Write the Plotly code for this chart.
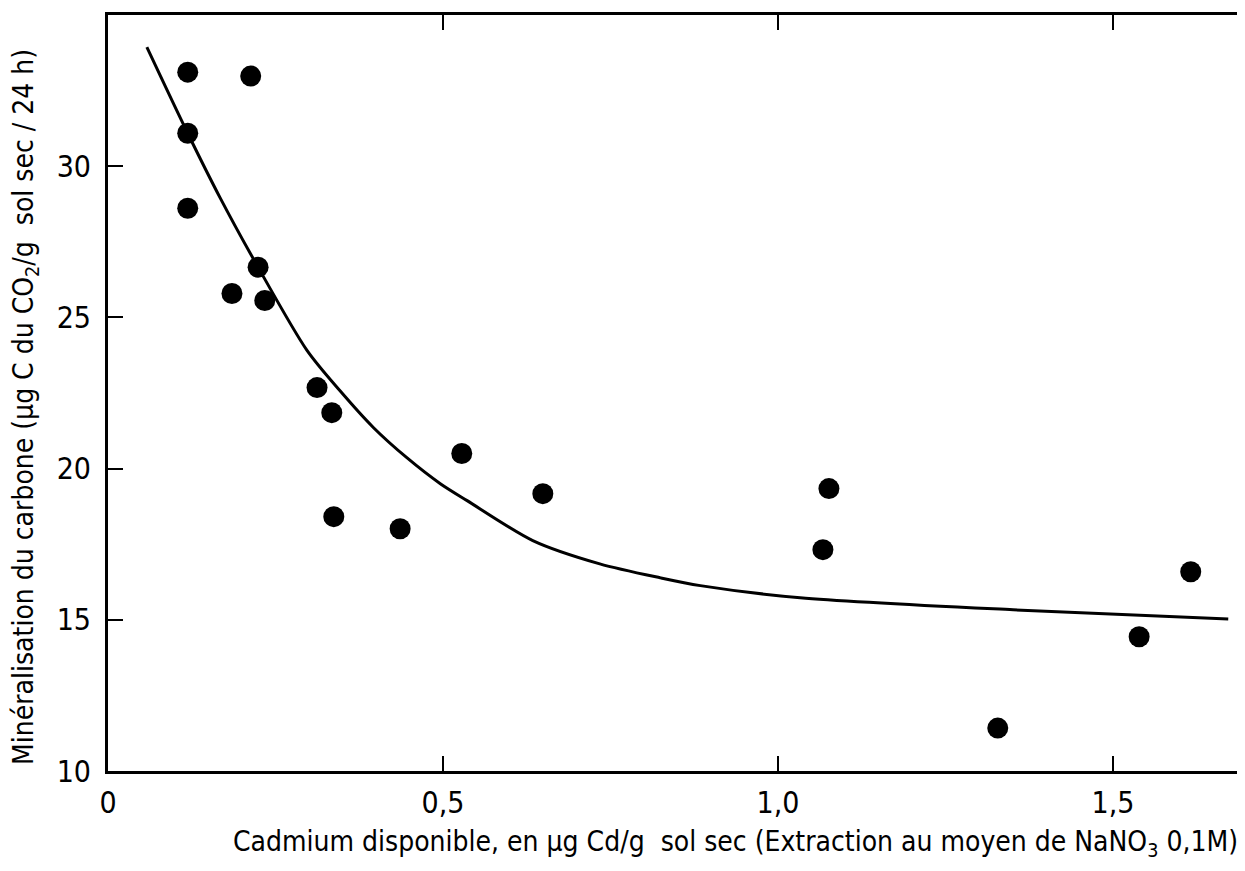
import plotly.graph_objects as go

# Measured points
cd_x = [0.119, 0.213, 0.119, 0.119, 0.224, 0.185, 0.234, 0.312, 0.334, 0.337,
        0.436, 0.528, 0.649, 1.067, 1.076, 1.328, 1.539, 1.616]
miner_y = [33.11, 32.98, 31.09, 28.61, 26.66, 25.79, 25.56, 22.68, 21.85, 18.41,
           18.01, 20.50, 19.17, 17.32, 19.34, 11.42, 14.44, 16.59]

# Fitted curve
curve_x = [0.058, 0.119, 0.167, 0.224, 0.297, 0.346, 0.396, 0.446, 0.496, 0.536,
           0.634, 0.734, 0.824, 0.884, 1.033, 1.351, 1.672]
curve_y = [33.94, 31.09, 28.97, 26.66, 23.91, 22.58, 21.36, 20.36, 19.50, 18.94,
           17.62, 16.85, 16.39, 16.13, 15.73, 15.33, 15.03]

x_ticks = [0, 0.5, 1.0, 1.5]
x_ticklabels = ["0", "0,5", "1,0", "1,5"]
y_ticks = [10, 15, 20, 25, 30]
y_ticklabels = ["10", "15", "20", "25", "30"]

FONT = "'DejaVu Sans Condensed', 'Liberation Sans Narrow', 'Roboto Condensed', 'DejaVu Sans', sans-serif"

fig = go.Figure()
fig.add_trace(go.Scatter(x=curve_x, y=curve_y, mode="lines",
                         line=dict(color="black", width=3, shape="spline", smoothing=0.8),
                         showlegend=False, hoverinfo="skip"))
fig.add_trace(go.Scatter(x=cd_x, y=miner_y, mode="markers",
                         marker=dict(color="black", size=21),
                         showlegend=False))

fig.update_layout(
    width=1237, height=855,
    margin=dict(l=100, r=0, t=7, b=92, autoexpand=False),
    paper_bgcolor="white", plot_bgcolor="white",
    font=dict(family=FONT, color="black", size=28),
    xaxis=dict(range=[0, 1.697], tickvals=x_ticks, ticktext=x_ticklabels,
               ticks="inside", ticklen=15, tickwidth=2, tickcolor="black",
               showline=True, linecolor="black", linewidth=3, mirror="ticks",
               showgrid=False, zeroline=False, automargin=False,
               ticklabelstandoff=3,
               tickfont=dict(size=30, family=FONT)),
    yaxis=dict(range=[10, 35], tickvals=y_ticks, ticktext=y_ticklabels,
               ticks="inside", ticklen=15, tickwidth=2, tickcolor="black",
               showline=True, linecolor="black", linewidth=3,
               showgrid=False, zeroline=False, automargin=False,
               ticklabelstandoff=8,
               tickfont=dict(size=30, family=FONT)),
    annotations=[
        dict(text="Cadmium disponible, en µg Cd/g  sol sec (Extraction au moyen de NaNO<sub>3</sub> 0,1M)",
             xref="paper", yref="paper", x=1.0, y=0, xanchor="right", yanchor="middle",
             xshift=-5, yshift=-72, showarrow=False, font=dict(size=28, family=FONT)),
        dict(text="Minéralisation du carbone (µg C du CO<sub>2</sub>/g  sol sec / 24 h)",
             xref="paper", yref="paper", x=0, y=0.5, xanchor="center", yanchor="middle",
             xshift=-83, yshift=-14, textangle=-90, showarrow=False,
             font=dict(size=28, family=FONT)),
    ],
)

fig.write_html("out.html")
